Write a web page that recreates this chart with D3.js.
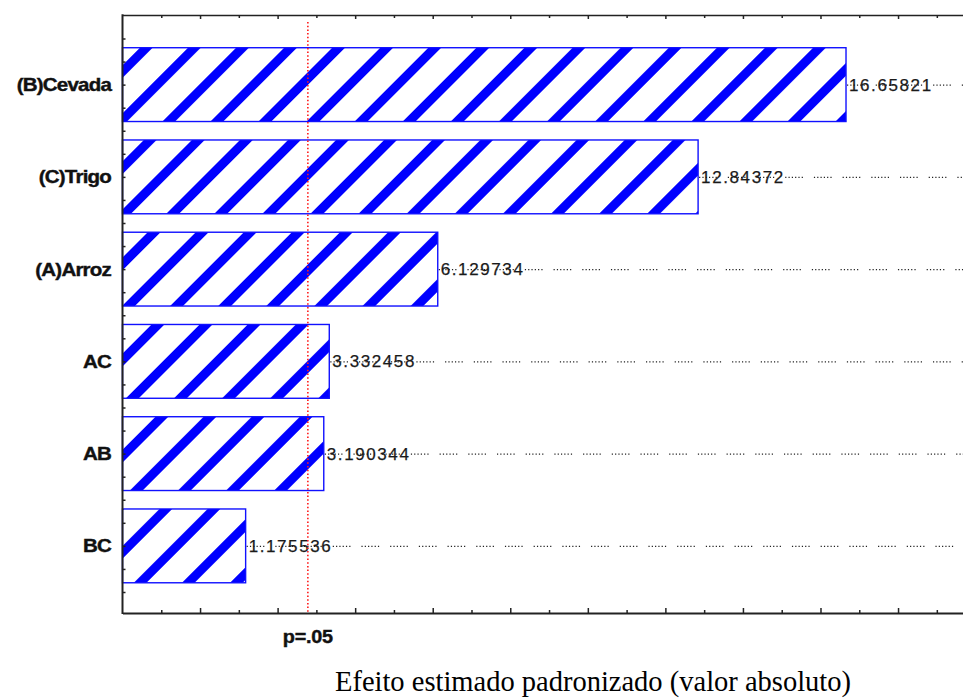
<!DOCTYPE html>
<html>
<head>
<meta charset="utf-8">
<script src="https://cdn.jsdelivr.net/npm/d3@7"></script>
<style>
  body { margin: 0; background: #fff; }
</style>
</head>
<body>
<svg id="chart" width="963" height="698"></svg>
<script>
// Pareto chart of standardized effects
const categories = ["(B)Cevada", "(C)Trigo", "(A)Arroz", "AC", "AB", "BC"];
const effects = [16.65821, 12.84372, 6.129734, 3.332458, 3.190344, 1.175536];
const effectLabels = ["16.65821", "12.84372", "6.129734", "3.332458", "3.190344", "1.175536"];
const criticalValue = 2.78;
const criticalLabel = "p=.05";
const xTitle = "Efeito estimado padronizado (valor absoluto)";
const xDomain = [-2, 20];
const majorTicks = [0, 2, 4, 6, 8, 10, 12, 14, 16, 18, 20];
const minorTicks = [-1, 1, 3, 5, 7, 9, 11, 13, 15, 17, 19];

const rows = categories.map((c, i) => ({ name: c, value: effects[i], label: effectLabels[i] }));

const W = 963, H = 698;
const plot = { left: 122.5, right: 975.6, top: 15, bottom: 613 };

const svg = d3.select("#chart");

const x = d3.scaleLinear().domain(xDomain).range([plot.left, plot.right]);
const y = d3.scaleBand().domain(categories).range([38.5, 592])
  .paddingInner(0.2).paddingOuter(0.1);
// quarter-band tick positions along the category axis
const yq = d3.scaleLinear().domain([0, categories.length * 4]).range(y.range());

// diagonal hatch fill
const defs = svg.append("defs");
defs.append("pattern")
  .attr("id", "hatch")
  .attr("patternUnits", "userSpaceOnUse")
  .attr("width", 34).attr("height", 34)
  .attr("x", -3.3)
  .attr("patternTransform", "rotate(45)")
  .append("rect")
  .attr("width", 9).attr("height", 34)
  .attr("fill", "#0000ff");

// dotted leaders from bar ends to the right edge
svg.append("g").selectAll("line").data(rows).join("line")
  .attr("x1", d => x(d.value) + 1)
  .attr("x2", W)
  .attr("y1", d => y(d.name) + y.bandwidth() / 2 + 0.5)
  .attr("y2", d => y(d.name) + y.bandwidth() / 2 + 0.5)
  .attr("stroke", "#222")
  .attr("stroke-width", 1.4)
  .attr("stroke-dasharray", "1.2 2.1 1.2 2.1 1.2 2.1 1.2 2.1 1.2 2.1 1.2 11");

// bars
const bars = svg.append("g");
bars.selectAll("rect.fill").data(rows).join("rect")
  .attr("x", x(xDomain[0]))
  .attr("y", d => y(d.name))
  .attr("width", d => x(d.value) - x(xDomain[0]))
  .attr("height", y.bandwidth())
  .attr("fill", "#fff")
  .attr("stroke", "none");
bars.selectAll("rect.hatch").data(rows).join("rect")
  .attr("x", x(xDomain[0]))
  .attr("y", d => y(d.name))
  .attr("width", d => x(d.value) - x(xDomain[0]))
  .attr("height", y.bandwidth())
  .attr("fill", "url(#hatch)")
  .attr("stroke", "#1010ff")
  .attr("stroke-width", 1.4);

// value labels
svg.append("g").selectAll("text").data(rows).join("text")
  .attr("x", d => x(d.value) + 3)
  .attr("y", d => y(d.name) + y.bandwidth() / 2)
  .attr("dy", "0.36em")
  .attr("font-family", "Arial, 'Liberation Sans', sans-serif")
  .attr("font-size", 17)
  .attr("letter-spacing", 1.6)
  .attr("fill", "#1a1a1a")
  .attr("stroke", "#1a1a1a")
  .attr("stroke-width", 0.25)
  .text(d => d.label);

// critical value line
svg.append("line")
  .attr("x1", x(criticalValue)).attr("x2", x(criticalValue))
  .attr("y1", 22).attr("y2", plot.bottom)
  .attr("stroke", "#ff1a1a")
  .attr("stroke-width", 1.6)
  .attr("stroke-dasharray", "1.5 2.2");

// axes
const axisColor = "#222";
const gBottom = svg.append("g").attr("transform", `translate(0,${plot.bottom})`);
gBottom.call(d3.axisBottom(x).tickValues(majorTicks).tickSize(-5).tickSizeOuter(0).tickFormat(""));
gBottom.append("g").call(d3.axisBottom(x).tickValues(minorTicks).tickSize(-3).tickSizeOuter(0).tickFormat(""))
  .select(".domain").remove();

const gTop = svg.append("g").attr("transform", `translate(0,${plot.top})`);
gTop.call(d3.axisTop(x).tickValues(majorTicks).tickSize(-4).tickSizeOuter(0).tickFormat(""));
gTop.append("g").call(d3.axisTop(x).tickValues(minorTicks).tickSize(-3).tickSizeOuter(0).tickFormat(""))
  .select(".domain").remove();

const gLeft = svg.append("g").attr("transform", `translate(${plot.left},0)`);
gLeft.call(d3.axisLeft(yq).tickValues(d3.range(0, categories.length * 4 + 1)).tickSize(-3).tickSizeOuter(0).tickFormat(""));
gLeft.select(".domain").remove();

svg.selectAll(".tick line").attr("stroke", axisColor).attr("stroke-width", 1.5);
gBottom.select(".domain").attr("stroke", axisColor).attr("stroke-width", 2);
gTop.select(".domain").attr("stroke", axisColor).attr("stroke-width", 1.5);

svg.append("line")
  .attr("x1", plot.left).attr("x2", plot.left)
  .attr("y1", plot.top - 0.75).attr("y2", plot.bottom + 1)
  .attr("stroke", axisColor).attr("stroke-width", 2);

// category labels (wide bold face, slightly stretched horizontally)
svg.append("g").selectAll("text").data(rows).join("text")
  .attr("transform", d => `translate(111,${y(d.name) + y.bandwidth() / 2}) scale(1.14,1)`)
  .attr("dy", "0.36em")
  .attr("text-anchor", "end")
  .attr("font-family", "Arial, 'Liberation Sans', sans-serif")
  .attr("font-weight", "bold")
  .attr("font-size", 18)
  .attr("letter-spacing", -0.7)
  .attr("fill", "#111")
  .attr("stroke", "#111")
  .attr("stroke-width", 0.4)
  .text(d => d.name);

// critical value label
svg.append("text")
  .attr("transform", `translate(${x(criticalValue)},643) scale(1.1,1)`)
  .attr("text-anchor", "middle")
  .attr("font-family", "Arial, 'Liberation Sans', sans-serif")
  .attr("font-weight", "bold")
  .attr("font-size", 18)
  .attr("letter-spacing", -0.2)
  .attr("fill", "#111")
  .attr("stroke", "#111")
  .attr("stroke-width", 0.4)
  .text(criticalLabel);

// axis title
svg.append("text")
  .attr("x", 593)
  .attr("y", 691)
  .attr("text-anchor", "middle")
  .attr("font-family", "'Times New Roman', 'Liberation Serif', serif")
  .attr("font-size", 28.5)
  .attr("fill", "#000")
  .text(xTitle);
</script>
</body>
</html>
